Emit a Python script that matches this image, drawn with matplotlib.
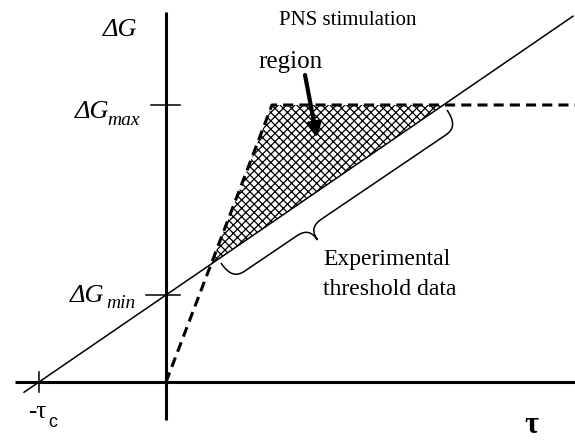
import numpy as np
import matplotlib.pyplot as plt
from matplotlib.path import Path
from matplotlib.patches import PathPatch, Polygon

plt.rcParams['font.family'] = ['Liberation Serif', 'DejaVu Serif']
plt.rcParams['hatch.linewidth'] = 0.9
plt.rcParams['hatch.color'] = 'black'

# schematic values (arbitrary units)
tau_c = 1.27          # chronaxie-like intercept on the tau axis
g_min = 0.87          # intercept on the dG axis
g_max = 2.77          # saturation level
tau_knee = 1.06       # where the dashed PNS limit reaches g_max
tau_line = [-1.42, 4.07]   # extent of the solid threshold line
tau_end = 4.09             # right end of the dashed plateau

x_axis = [-1.51, 4.09]
y_axis = [-0.38, 3.70]


def threshold(t):
    return g_min * (1 + np.asarray(t) / tau_c)


def brace(ax, p0, p1, tip_frac, h, H, r):
    # curly brace from p0 to p1, bulging to the right-hand side
    p0 = np.array(p0)
    p1 = np.array(p1)
    L = np.linalg.norm(p1 - p0)
    e = (p1 - p0) / L
    n = np.array([e[1], -e[0]])
    t = tip_frac * L
    pts = [(0, 0), (0, 0.7 * h), (0.3 * r, h), (r, h),
           (t - r, h),
           (t - 0.3 * r, h), (t, h + 0.3 * (H - h)), (t, H),
           (t, h + 0.3 * (H - h)), (t + 0.3 * r, h), (t + r, h),
           (L - r, h),
           (L - 0.3 * r, h), (L, 0.7 * h), (L, 0)]
    codes = [Path.MOVETO] + [Path.CURVE4] * 3 + [Path.LINETO] + [Path.CURVE4] * 6 + \
            [Path.LINETO] + [Path.CURVE4] * 3
    verts = [p0 + u * e + v * n for u, v in pts]
    ax.add_patch(PathPatch(Path(verts, codes), fill=False, lw=1.1, color='black'))


fig = plt.figure(figsize=(5.75, 4.41), dpi=100)
ax = fig.add_axes([0, 0, 1, 1])
ax.set_xlim(-1.66, 4.09)
ax.set_ylim(-0.59, 3.82)
ax.axis('off')

# axes
ax.plot(x_axis, [0, 0], color='black', lw=2.2, solid_capstyle='butt')
ax.plot([0, 0], y_axis, color='black', lw=2.2, solid_capstyle='butt')

# ticks
ax.plot([-0.15, 0.14], [g_max, g_max], color='black', lw=1.1)
ax.plot([-0.20, 0.14], [g_min, g_min], color='black', lw=1.1)
ax.plot([-tau_c, -tau_c], [-0.10, 0.10], color='black', lw=1.1)

# solid threshold line
ax.plot(tau_line, threshold(tau_line), color='black', lw=1.1)

# hatched region
slope_pns = g_max / tau_knee
t_cross = g_min / (slope_pns - g_min / tau_c)
t_top = tau_c * (g_max / g_min - 1)
region = Polygon([(t_cross, threshold(t_cross)), (tau_knee, g_max), (t_top, g_max)],
                 closed=True, facecolor='none', edgecolor='black', lw=0, hatch='xxxx')
ax.add_patch(region)

# dashed PNS limit
ax.plot([0, tau_knee, tau_end], [0, g_max, g_max], color='black', lw=2.2,
        dashes=(3.3, 2.0), dash_capstyle='butt')

# brace along the threshold line
brace(ax, (0.55, 1.19), (2.81, 2.72), 0.34, 0.20, 0.35, 0.15)

# arrow to the region
ax.annotate('', xy=(1.51, 2.44), xytext=(1.39, 3.07),
            arrowprops=dict(arrowstyle='-|>', lw=3, color='black', mutation_scale=20,
                            shrinkA=0, shrinkB=0))

# texts
ax.text(1.13, 3.62, 'PNS stimulation', fontsize=15, ha='left', va='center')
ax.text(1.25, 3.14, 'region', fontsize=18, ha='center', va='baseline')
ax.text(1.57, 1.17, 'Experimental', fontsize=17, ha='left', va='baseline')
ax.text(1.57, 0.87, 'threshold data', fontsize=17, ha='left', va='baseline')

ax.text(-0.29, 3.46, 'ΔG', fontsize=19, style='italic', ha='right', va='baseline')
ax.text(-0.57, 2.64, 'ΔG', fontsize=19, style='italic', ha='right', va='baseline')
ax.text(-0.59, 2.57, 'max', fontsize=14, style='italic', ha='left', va='baseline')
ax.text(-0.62, 0.80, 'ΔG', fontsize=19, style='italic', ha='right', va='baseline')
ax.text(-0.60, 0.74, 'min', fontsize=14, style='italic', ha='left', va='baseline')

ax.text(-1.38, -0.36, '-τ', fontsize=18, ha='left', va='baseline')
ax.text(-1.18, -0.45, 'c', fontsize=13, ha='left', va='baseline', family='Liberation Sans')
ax.text(3.65, -0.51, 'τ', fontsize=22, fontweight='bold', ha='center', va='baseline')

fig.savefig('out.png', dpi=100)
